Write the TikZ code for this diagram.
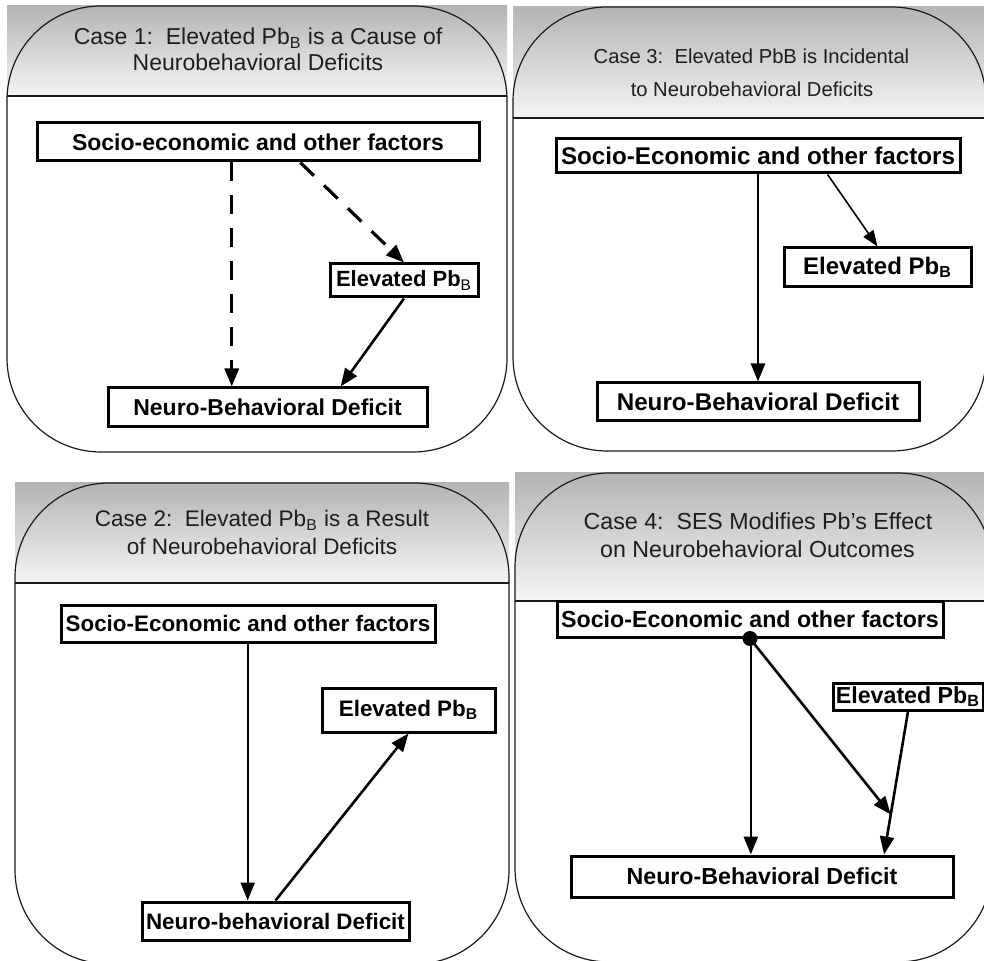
\documentclass[tikz,border=0pt]{standalone}
\usepackage{fontspec}
\setmainfont{Liberation Sans}
\usetikzlibrary{calc,arrows.meta}
\definecolor{headgray}{HTML}{B4B4B4}
\definecolor{titlegray}{HTML}{1E1E1E}
\tikzset{
  panel/.style={draw=black!90,line width=0.6pt,rounded corners=47pt},
  header/.style={top color=headgray,bottom color=white!96!black},
  headline/.style={draw=black!90,line width=0.6pt},
  factor/.style={draw,line width=1.5pt,fill=white,inner sep=0pt},
  casetitle/.style={anchor=base,inner sep=0pt,text=titlegray},
  causal/.style={line width=1.3pt,-{Triangle[length=9pt,width=7pt]}},
  dashcause/.style={causal,line width=1.6pt,dash pattern=on 9.5pt off 7pt},
}
\begin{document}
\begin{tikzpicture}[x=0.5pt,y=-0.5pt]
    \useasboundingbox (0,0) rectangle (984,961);
    \clip (0,0) rectangle (984,961);

    % case 1
    \fill[header] (7,6) rectangle (507,96);
    \draw[panel] (7,6) rectangle (507,452);
    \draw[headline] (7,96) -- (507,96);
    \node[casetitle,font=\fontsize{11.5}{13}\selectfont] (t1a) at (258,45)
      {Case 1:\ \ Elevated Pb\textsubscript{B} is a Cause of};
    \node[casetitle,font=\fontsize{11.5}{13}\selectfont] (t1b) at (258,71)
      {Neurobehavioral Deficits};
    \node[factor,font=\fontsize{11.5}{13}\selectfont\bfseries,
      minimum width=221pt,minimum height=19pt] (S1) at (258,142)
      {Socio-economic and other factors};
    \node[factor,font=\fontsize{11}{13}\selectfont\bfseries,
      minimum width=74pt,minimum height=16.5pt] (E1) at (404,280.5)
      {Elevated Pb\textsubscript{\mdseries B}};
    \node[factor,font=\fontsize{11.5}{13}\selectfont\bfseries,
      minimum width=159.5pt,minimum height=19.5pt] (N1) at (267.5,407.5)
      {Neuro-Behavioral Deficit};
    \coordinate (n1a) at ($(N1.north west)!0.389!(N1.north east)$);
    \coordinate (n1b) at ($(N1.north west)!0.727!(N1.north east)$);
    \coordinate (s1a) at ($(S1.south west)!0.595!(S1.south east)$);
    \draw[dashcause] (S1.south -| n1a) -- (n1a);
    \draw[dashcause] (s1a) -- (E1.north);
    \draw[causal] (E1.south) -- (n1b);

    % case 3
    \fill[header] (513,7) rectangle (986,118);
    \draw[panel] (513,7) rectangle (986,451);
    \draw[headline] (513,118) -- (986,118);
    \node[casetitle,font=\fontsize{10.1}{12}\selectfont] (t3a) at (751.5,64)
      {Case 3:\ \ Elevated PbB is Incidental};
    \node[casetitle,font=\fontsize{10.1}{12}\selectfont] (t3b) at (752,97)
      {to Neurobehavioral Deficits};
    \node[factor,font=\fontsize{12.1}{14}\selectfont\bfseries,
      minimum width=202pt,minimum height=17pt] (S3) at (758,156)
      {Socio-Economic and other factors};
    \node[factor,font=\fontsize{12}{14}\selectfont\bfseries,
      minimum width=93.5pt,minimum height=19.5pt] (E3) at (877.5,267.5)
      {Elevated Pb\textsubscript{B}};
    \node[factor,font=\fontsize{12.1}{14}\selectfont\bfseries,
      minimum width=161pt,minimum height=19pt] (N3) at (758,402)
      {Neuro-Behavioral Deficit};
    \coordinate (s3a) at ($(S3.south west)!0.671!(S3.south east)$);
    \draw[causal] (S3.south) -- (N3.north);
    \draw[line width=0.8pt,-{Triangle[length=8pt,width=6pt]}] (s3a) -- (E3.north);

    % case 2
    \fill[header] (15,483) rectangle (509,583);
    \draw[panel] (15,483) rectangle (509,964);
    \draw[headline] (15,583) -- (509,583);
    \node[casetitle,font=\fontsize{11.25}{13}\selectfont] (t2a) at (262,527)
      {Case 2:\ \ Elevated Pb\textsubscript{B} is a Result};
    \node[casetitle,font=\fontsize{11.25}{13}\selectfont] (t2b) at (262,555)
      {of Neurobehavioral Deficits};
    \node[factor,font=\fontsize{11.2}{13}\selectfont\bfseries,
      minimum width=187pt,minimum height=18.5pt] (S2) at (248,623.5)
      {Socio-Economic and other factors};
    \node[factor,font=\fontsize{11.2}{13}\selectfont\bfseries,
      minimum width=86.5pt,minimum height=22pt] (E2) at (408.5,710)
      {Elevated Pb\textsubscript{B}};
    \node[factor,font=\fontsize{11.2}{13}\selectfont\bfseries,
      minimum width=133.5pt,minimum height=19pt] (N2) at (275.5,921)
      {Neuro-behavioral Deficit};
    \coordinate (n2a) at ($(N2.north west)!0.397!(N2.north east)$);
    \draw[causal,line width=1.1pt] (S2.south -| n2a) -- (n2a);
    \draw[causal] (N2.north) -- (E2.south);

    % case 4
    \fill[header] (515,473) rectangle (992,601);
    \draw[panel] (515,473) rectangle (992,962);
    \draw[headline] (515,601) -- (992,601);
    \node[casetitle,font=\fontsize{11.6}{13}\selectfont] (t4a) at (758,530)
      {Case 4:\ \ SES Modifies Pb’s Effect};
    \node[casetitle,font=\fontsize{11.6}{13}\selectfont] (t4b) at (757.5,558)
      {on Neurobehavioral Outcomes};
    \node[factor,font=\fontsize{11.6}{13}\selectfont\bfseries,
      minimum width=193pt,minimum height=18pt] (S4) at (750,619)
      {Socio-Economic and other factors};
    \node[factor,font=\fontsize{11.6}{13}\selectfont\bfseries,
      minimum width=75pt,minimum height=13.5pt] (E4) at (908,696.5)
      {Elevated Pb\textsubscript{B}};
    \node[factor,font=\fontsize{11.6}{13}\selectfont\bfseries,
      minimum width=191pt,minimum height=20.5pt] (N4) at (762,876.5)
      {Neuro-Behavioral Deficit};
    \coordinate (n4a) at ($(N4.north west)!0.471!(N4.north east)$);
    \coordinate (n4b) at ($(N4.north east)!0.183!(N4.north west)$);
    \coordinate (m4) at ($(E4.south)!0.72!(n4b)$);
    \draw[causal] (S4.south -| n4a) -- (n4a);
    \draw[causal] (E4.south) -- (n4b);
    \draw[causal] (S4.south) -- (m4);
    \fill (S4.south) circle (3.75pt);
\end{tikzpicture}
\end{document}
